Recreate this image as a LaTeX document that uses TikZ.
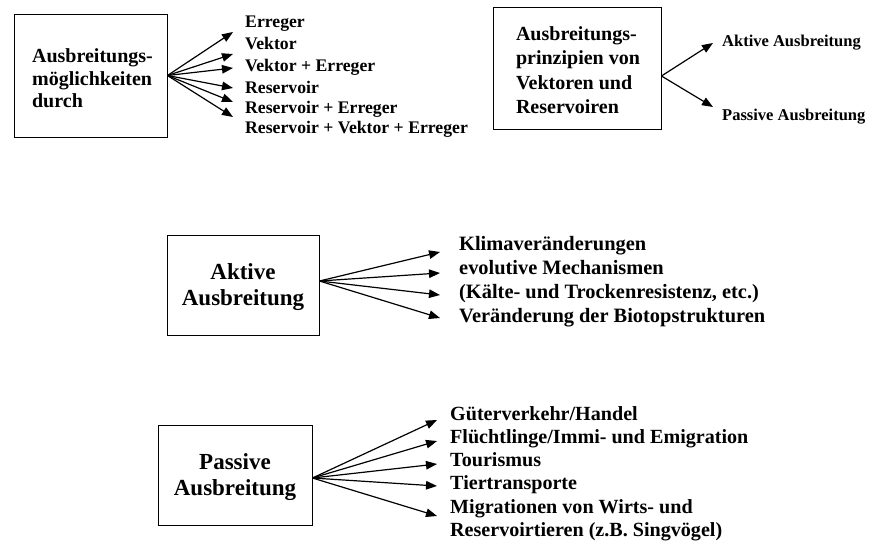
\documentclass[tikz,border=0pt]{standalone}
\usepackage{fontspec}
\setmainfont{Liberation Serif}
\usetikzlibrary{arrows.meta}
\begin{document}
\begin{tikzpicture}[x=1pt,y=-1pt,
  box/.style={draw,line width=0.9pt,inner sep=0pt},
  btxt/.style={inner sep=0pt,font=\bfseries},
  lbl/.style={anchor=base west,inner sep=0pt,font=\bfseries},
  arr/.style={line width=1.2pt,-{Triangle[length=11pt,width=8.5pt]}}]
\useasboundingbox (0,0) rectangle (889,543);
% top-left
\node[box,minimum width=153pt,minimum height=123pt] (b1) at (90.5,75.5) {};
\node[btxt,align=left,font=\bfseries\fontsize{20}{22.5}\selectfont] (b1t) at ([xshift=2pt,yshift=-3pt]b1.center) {Ausbreitungs-\\möglichkeiten\\durch};
\begin{scope}[lbl/.append style={font=\bfseries\fontsize{17.7}{19}\selectfont}]
\node[lbl] (l11) at (245,28) {Erreger};
\node[lbl] (l12) at (245,50) {Vektor};
\node[lbl] (l13) at (245,72) {Vektor + Erreger};
\node[lbl] (l14) at (245,93) {Reservoir};
\node[lbl] (l15) at (245,113) {Reservoir + Erreger};
\node[lbl] (l16) at (245,133) {Reservoir + Vektor + Erreger};
\end{scope}
\coordinate (t11) at (233,32);
\coordinate (t12) at (233,54);
\coordinate (t13) at (233,68);
\coordinate (t14) at (233,88);
\coordinate (t15) at (233,102);
\coordinate (t16) at (233,117);
\foreach \i in {1,...,6} \draw[arr] (b1.east) -- (t1\i);
% top-right
\node[box,minimum width=168pt,minimum height=122pt] (b2) at (577,68) {};
\node[btxt,align=left,font=\bfseries\fontsize{20}{24.5}\selectfont] (b2t) at ([xshift=1pt,yshift=-2pt]b2.center) {Ausbreitungs-\\prinzipien von\\Vektoren und\\Reservoiren};
\begin{scope}[lbl/.append style={font=\bfseries\fontsize{16.5}{19}\selectfont}]
\node[lbl] (l21) at (722,47) {Aktive Ausbreitung};
\node[lbl] (l22) at (722,120) {Passive Ausbreitung};
\end{scope}
\coordinate (t21) at (713,43);
\coordinate (t22) at (713,107);
\draw[arr] ([yshift=-8pt]b2.east) -- (t21);
\draw[arr] ([yshift=-8pt]b2.east) -- (t22);
% middle
\node[box,minimum width=152pt,minimum height=100pt] (b3) at (243,285) {};
\node[btxt,align=center,font=\bfseries\fontsize{23}{26}\selectfont] (b3t) at ([yshift=-2pt]b3.center) {Aktive\\Ausbreitung};
\begin{scope}[lbl/.append style={font=\bfseries\fontsize{20.4}{22}\selectfont}]
\node[lbl] (l31) at (459,250) {Klimaveränderungen};
\node[lbl] (l32) at (459,274) {evolutive Mechanismen};
\node[lbl] (l33) at (459,298) {(Kälte- und Trockenresistenz, etc.)};
\node[lbl] (l34) at (459,322) {Veränderung der Biotopstrukturen};
\end{scope}
\coordinate (t31) at (440,252);
\coordinate (t32) at (440,273);
\coordinate (t33) at (440,295);
\coordinate (t34) at (440,318);
\foreach \i in {1,...,4} \draw[arr] ([yshift=4pt]b3.east) -- (t3\i);
% bottom
\node[box,minimum width=154pt,minimum height=100pt] (b4) at (235,475) {};
\node[btxt,align=center,font=\bfseries\fontsize{23}{26}\selectfont] (b4t) at ([yshift=-2pt]b4.center) {Passive\\Ausbreitung};
\begin{scope}[lbl/.append style={font=\bfseries\fontsize{20.1}{22}\selectfont}]
\node[lbl] (l41) at (450,420) {Güterverkehr/Handel};
\node[lbl] (l42) at (450,443) {Flüchtlinge/Immi- und Emigration};
\node[lbl] (l43) at (450,466) {Tourismus};
\node[lbl] (l44) at (450,489) {Tiertransporte};
\node[lbl] (l45) at (450,513) {Migrationen von Wirts- und};
\node[lbl] (l46) at (450,536) {Reservoirtieren (z.B. Singvögel)};
\end{scope}
\coordinate (t41) at (437,420);
\coordinate (t42) at (437,441);
\coordinate (t43) at (437,464);
\coordinate (t44) at (437,486);
\coordinate (t45) at (437,516);
\foreach \i in {1,...,5} \draw[arr] ([yshift=-3pt]b4.east) -- (t4\i);
\end{tikzpicture}
\end{document}
